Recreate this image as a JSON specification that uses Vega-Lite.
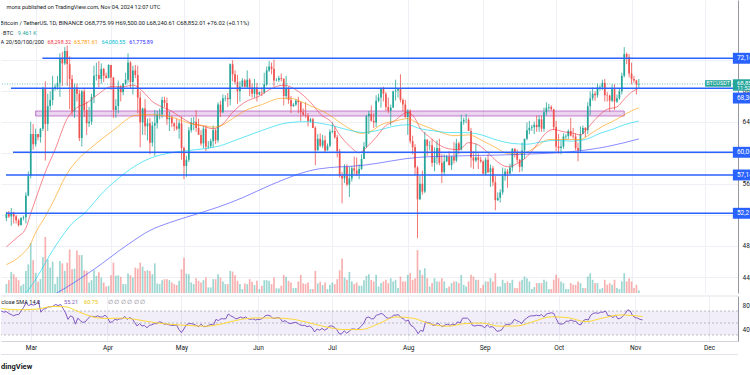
{
"$schema":"https://vega.github.io/schema/vega-lite/v6.json",
"padding":0,
"background":"#ffffff",
"spacing":2,
"config":{"view":{"stroke":null},"font":"Roboto","axis":{"labelFont":"Roboto","labelFontSize":6.5,"labelColor":"#131722","ticks":false,"gridColor":"#eef0f5","domainColor":"#9598a1"}},
"datasets":{
"ohlc":[
{"d":"2024-02-18","o":51.6,"h":52.4,"l":51.2,"c":52.1,"v":27,"r":70},
{"d":"2024-02-19","o":52.1,"h":52.5,"l":51.6,"c":51.8,"v":39,"r":68},
{"d":"2024-02-20","o":51.8,"h":52.9,"l":50.6,"c":52.3,"v":64,"r":69},
{"d":"2024-02-21","o":52.3,"h":52.4,"l":50.9,"c":51.8,"v":57,"r":66},
{"d":"2024-02-22","o":51.8,"h":52.0,"l":50.9,"c":51.3,"v":47,"r":64},
{"d":"2024-02-23","o":51.3,"h":51.5,"l":50.5,"c":50.7,"v":39,"r":62},
{"d":"2024-02-24","o":50.7,"h":51.7,"l":50.6,"c":51.6,"v":22,"r":64},
{"d":"2024-02-25","o":51.6,"h":51.9,"l":51.3,"c":51.7,"v":27,"r":64},
{"d":"2024-02-26","o":51.7,"h":54.9,"l":50.9,"c":54.5,"v":67,"r":70},
{"d":"2024-02-27","o":54.5,"h":57.6,"l":54.4,"c":57.0,"v":87,"r":76},
{"d":"2024-02-28","o":57.0,"h":64.0,"l":56.7,"c":62.4,"v":152,"r":84},
{"d":"2024-02-29","o":62.4,"h":63.7,"l":60.4,"c":61.1,"v":99,"r":79},
{"d":"2024-03-01","o":61.1,"h":63.1,"l":60.8,"c":62.4,"v":61,"r":81},
{"d":"2024-03-02","o":62.4,"h":62.4,"l":61.6,"c":62.0,"v":34,"r":80},
{"d":"2024-03-03","o":62.0,"h":63.2,"l":61.3,"c":63.1,"v":42,"r":81},
{"d":"2024-03-04","o":63.1,"h":68.5,"l":62.8,"c":68.2,"v":109,"r":87},
{"d":"2024-03-05","o":68.2,"h":69.2,"l":59.0,"c":63.7,"v":170,"r":68},
{"d":"2024-03-06","o":63.7,"h":67.6,"l":62.8,"c":66.0,"v":102,"r":73},
{"d":"2024-03-07","o":66.0,"h":67.9,"l":65.5,"c":66.8,"v":77,"r":74},
{"d":"2024-03-08","o":66.8,"h":69.9,"l":66.1,"c":68.3,"v":95,"r":77},
{"d":"2024-03-09","o":68.3,"h":68.8,"l":68.0,"c":68.5,"v":27,"r":77},
{"d":"2024-03-10","o":68.5,"h":69.9,"l":68.1,"c":69.0,"v":49,"r":78},
{"d":"2024-03-11","o":69.0,"h":72.8,"l":67.2,"c":72.1,"v":97,"r":81},
{"d":"2024-03-12","o":72.1,"h":73.0,"l":68.6,"c":71.5,"v":90,"r":79},
{"d":"2024-03-13","o":71.5,"h":73.6,"l":71.3,"c":73.1,"v":67,"r":81},
{"d":"2024-03-14","o":73.1,"h":73.8,"l":68.6,"c":71.4,"v":92,"r":74},
{"d":"2024-03-15","o":71.4,"h":72.4,"l":65.6,"c":69.5,"v":132,"r":67},
{"d":"2024-03-16","o":69.5,"h":70.0,"l":64.8,"c":65.3,"v":72,"r":56},
{"d":"2024-03-17","o":65.3,"h":68.9,"l":64.5,"c":68.4,"v":74,"r":62},
{"d":"2024-03-18","o":68.4,"h":68.9,"l":66.6,"c":67.6,"v":129,"r":60},
{"d":"2024-03-19","o":67.6,"h":68.1,"l":61.5,"c":61.9,"v":115,"r":48},
{"d":"2024-03-20","o":61.9,"h":68.1,"l":60.8,"c":67.9,"v":115,"r":58},
{"d":"2024-03-21","o":67.9,"h":68.2,"l":64.6,"c":65.5,"v":69,"r":54},
{"d":"2024-03-22","o":65.5,"h":66.6,"l":62.3,"c":63.8,"v":67,"r":51},
{"d":"2024-03-23","o":63.8,"h":65.9,"l":63.3,"c":64.0,"v":32,"r":52},
{"d":"2024-03-24","o":64.0,"h":67.6,"l":63.6,"c":67.2,"v":39,"r":57},
{"d":"2024-03-25","o":67.2,"h":71.2,"l":66.4,"c":69.9,"v":69,"r":61},
{"d":"2024-03-26","o":69.9,"h":71.6,"l":69.3,"c":70.0,"v":52,"r":61},
{"d":"2024-03-27","o":70.0,"h":71.8,"l":68.4,"c":69.5,"v":63,"r":60},
{"d":"2024-03-28","o":69.5,"h":71.5,"l":68.9,"c":70.8,"v":47,"r":62},
{"d":"2024-03-29","o":70.8,"h":70.9,"l":69.1,"c":69.9,"v":32,"r":60},
{"d":"2024-03-30","o":69.9,"h":70.3,"l":69.6,"c":69.6,"v":20,"r":60},
{"d":"2024-03-31","o":69.6,"h":71.4,"l":69.6,"c":71.3,"v":22,"r":63},
{"d":"2024-04-01","o":71.3,"h":71.3,"l":68.1,"c":69.7,"v":54,"r":59},
{"d":"2024-04-02","o":69.7,"h":69.7,"l":64.5,"c":65.5,"v":92,"r":51},
{"d":"2024-04-03","o":65.5,"h":66.9,"l":64.5,"c":66.0,"v":52,"r":52},
{"d":"2024-04-04","o":66.0,"h":69.3,"l":65.1,"c":68.5,"v":54,"r":56},
{"d":"2024-04-05","o":68.5,"h":68.7,"l":66.6,"c":67.8,"v":49,"r":55},
{"d":"2024-04-06","o":67.8,"h":69.0,"l":67.4,"c":68.9,"v":27,"r":57},
{"d":"2024-04-07","o":68.9,"h":70.3,"l":68.7,"c":69.4,"v":27,"r":57},
{"d":"2024-04-08","o":69.4,"h":72.8,"l":69.0,"c":71.6,"v":59,"r":61},
{"d":"2024-04-09","o":71.6,"h":71.8,"l":68.2,"c":69.1,"v":54,"r":56},
{"d":"2024-04-10","o":69.1,"h":71.2,"l":67.5,"c":70.6,"v":47,"r":59},
{"d":"2024-04-11","o":70.6,"h":71.3,"l":69.6,"c":70.0,"v":77,"r":57},
{"d":"2024-04-12","o":70.0,"h":71.2,"l":65.1,"c":67.1,"v":74,"r":51},
{"d":"2024-04-13","o":67.1,"h":67.9,"l":60.7,"c":63.9,"v":92,"r":45},
{"d":"2024-04-14","o":63.9,"h":65.8,"l":62.3,"c":65.7,"v":80,"r":49},
{"d":"2024-04-15","o":65.7,"h":66.9,"l":62.3,"c":63.4,"v":67,"r":45},
{"d":"2024-04-16","o":63.4,"h":64.4,"l":61.6,"c":63.8,"v":69,"r":46},
{"d":"2024-04-17","o":63.8,"h":64.5,"l":59.8,"c":61.3,"v":67,"r":42},
{"d":"2024-04-18","o":61.3,"h":64.0,"l":60.8,"c":63.5,"v":57,"r":46},
{"d":"2024-04-19","o":63.5,"h":65.5,"l":59.6,"c":63.8,"v":90,"r":47},
{"d":"2024-04-20","o":63.8,"h":65.4,"l":63.1,"c":64.9,"v":29,"r":49},
{"d":"2024-04-21","o":64.9,"h":65.7,"l":64.3,"c":64.95,"v":27,"r":49},
{"d":"2024-04-22","o":64.95,"h":67.2,"l":64.5,"c":66.8,"v":39,"r":52},
{"d":"2024-04-23","o":66.8,"h":67.2,"l":65.9,"c":66.4,"v":42,"r":51},
{"d":"2024-04-24","o":66.4,"h":67.1,"l":63.6,"c":64.3,"v":42,"r":48},
{"d":"2024-04-25","o":64.3,"h":65.3,"l":62.8,"c":64.5,"v":39,"r":48},
{"d":"2024-04-26","o":64.5,"h":64.8,"l":63.3,"c":63.8,"v":32,"r":47},
{"d":"2024-04-27","o":63.8,"h":63.9,"l":62.8,"c":63.4,"v":27,"r":46},
{"d":"2024-04-28","o":63.4,"h":64.4,"l":62.9,"c":63.1,"v":24,"r":46},
{"d":"2024-04-29","o":63.1,"h":64.2,"l":61.8,"c":63.8,"v":37,"r":47},
{"d":"2024-04-30","o":63.8,"h":64.7,"l":59.1,"c":60.6,"v":72,"r":39},
{"d":"2024-05-01","o":60.6,"h":60.8,"l":56.6,"c":58.3,"v":107,"r":34},
{"d":"2024-05-02","o":58.3,"h":59.6,"l":56.9,"c":59.1,"v":59,"r":40},
{"d":"2024-05-03","o":59.1,"h":63.3,"l":58.8,"c":62.9,"v":57,"r":47},
{"d":"2024-05-04","o":62.9,"h":64.5,"l":62.6,"c":63.9,"v":32,"r":49},
{"d":"2024-05-05","o":63.9,"h":64.6,"l":62.9,"c":64.0,"v":27,"r":49},
{"d":"2024-05-06","o":64.0,"h":65.5,"l":62.7,"c":63.2,"v":45,"r":48},
{"d":"2024-05-07","o":63.2,"h":64.4,"l":62.3,"c":62.3,"v":37,"r":46},
{"d":"2024-05-08","o":62.3,"h":62.9,"l":60.9,"c":61.2,"v":32,"r":44},
{"d":"2024-05-09","o":61.2,"h":63.4,"l":60.6,"c":63.1,"v":39,"r":48},
{"d":"2024-05-10","o":63.1,"h":63.5,"l":60.2,"c":60.8,"v":47,"r":44},
{"d":"2024-05-11","o":60.8,"h":61.5,"l":60.5,"c":60.85,"v":17,"r":44},
{"d":"2024-05-12","o":60.85,"h":61.8,"l":60.6,"c":61.5,"v":17,"r":46},
{"d":"2024-05-13","o":61.5,"h":63.5,"l":60.7,"c":62.9,"v":42,"r":48},
{"d":"2024-05-14","o":62.9,"h":63.1,"l":61.1,"c":61.6,"v":42,"r":46},
{"d":"2024-05-15","o":61.6,"h":66.5,"l":61.3,"c":66.2,"v":57,"r":56},
{"d":"2024-05-16","o":66.2,"h":66.7,"l":64.6,"c":65.2,"v":47,"r":54},
{"d":"2024-05-17","o":65.2,"h":67.5,"l":65.1,"c":67.0,"v":35,"r":57},
{"d":"2024-05-18","o":67.0,"h":67.4,"l":66.6,"c":67.05,"v":27,"r":57},
{"d":"2024-05-19","o":67.05,"h":67.7,"l":65.9,"c":66.9,"v":27,"r":57},
{"d":"2024-05-20","o":66.9,"h":71.5,"l":66.1,"c":71.4,"v":67,"r":65},
{"d":"2024-05-21","o":71.4,"h":71.9,"l":69.2,"c":70.1,"v":65,"r":62},
{"d":"2024-05-22","o":70.1,"h":70.6,"l":68.8,"c":69.1,"v":54,"r":60},
{"d":"2024-05-23","o":69.1,"h":70.0,"l":66.3,"c":67.9,"v":37,"r":57},
{"d":"2024-05-24","o":67.9,"h":69.2,"l":66.6,"c":68.5,"v":27,"r":58},
{"d":"2024-05-25","o":68.5,"h":69.6,"l":68.5,"c":69.3,"v":12,"r":60},
{"d":"2024-05-26","o":69.3,"h":69.5,"l":68.4,"c":68.5,"v":29,"r":58},
{"d":"2024-05-27","o":68.5,"h":70.6,"l":68.2,"c":69.4,"v":27,"r":60},
{"d":"2024-05-28","o":69.4,"h":69.6,"l":67.3,"c":68.4,"v":42,"r":57},
{"d":"2024-05-29","o":68.4,"h":68.9,"l":67.1,"c":67.6,"v":34,"r":56},
{"d":"2024-05-30","o":67.6,"h":69.5,"l":67.1,"c":68.4,"v":24,"r":57},
{"d":"2024-05-31","o":68.4,"h":69.0,"l":66.6,"c":67.5,"v":37,"r":55},
{"d":"2024-06-01","o":67.5,"h":67.9,"l":67.4,"c":67.8,"v":12,"r":56},
{"d":"2024-06-02","o":67.8,"h":68.4,"l":67.3,"c":67.75,"v":22,"r":56},
{"d":"2024-06-03","o":67.75,"h":70.3,"l":67.6,"c":68.8,"v":39,"r":58},
{"d":"2024-06-04","o":68.8,"h":71.1,"l":68.6,"c":70.6,"v":39,"r":62},
{"d":"2024-06-05","o":70.6,"h":71.8,"l":70.4,"c":71.1,"v":37,"r":63},
{"d":"2024-06-06","o":71.1,"h":71.6,"l":70.1,"c":70.8,"v":27,"r":62},
{"d":"2024-06-07","o":70.8,"h":72.0,"l":68.5,"c":69.3,"v":47,"r":58},
{"d":"2024-06-08","o":69.3,"h":69.6,"l":69.2,"c":69.35,"v":14,"r":58},
{"d":"2024-06-09","o":69.35,"h":69.9,"l":69.1,"c":69.6,"v":14,"r":59},
{"d":"2024-06-10","o":69.6,"h":70.2,"l":69.2,"c":69.5,"v":22,"r":58},
{"d":"2024-06-11","o":69.5,"h":69.6,"l":66.1,"c":67.3,"v":55,"r":52},
{"d":"2024-06-12","o":67.3,"h":69.9,"l":66.9,"c":68.2,"v":49,"r":54},
{"d":"2024-06-13","o":68.2,"h":68.5,"l":66.3,"c":66.8,"v":37,"r":51},
{"d":"2024-06-14","o":66.8,"h":67.3,"l":65.1,"c":66.0,"v":32,"r":49},
{"d":"2024-06-15","o":66.0,"h":66.4,"l":65.9,"c":66.2,"v":15,"r":50},
{"d":"2024-06-16","o":66.2,"h":66.9,"l":66.0,"c":66.7,"v":15,"r":51},
{"d":"2024-06-17","o":66.7,"h":67.2,"l":65.1,"c":66.5,"v":35,"r":50},
{"d":"2024-06-18","o":66.5,"h":66.6,"l":64.1,"c":65.2,"v":55,"r":47},
{"d":"2024-06-19","o":65.2,"h":65.7,"l":64.7,"c":64.9,"v":29,"r":46},
{"d":"2024-06-20","o":64.9,"h":66.5,"l":64.5,"c":64.8,"v":27,"r":46},
{"d":"2024-06-21","o":64.8,"h":65.1,"l":63.4,"c":64.1,"v":32,"r":44},
{"d":"2024-06-22","o":64.1,"h":64.5,"l":63.9,"c":64.3,"v":12,"r":45},
{"d":"2024-06-23","o":64.3,"h":64.5,"l":63.2,"c":63.2,"v":12,"r":42},
{"d":"2024-06-24","o":63.2,"h":63.4,"l":58.4,"c":60.3,"v":67,"r":35},
{"d":"2024-06-25","o":60.3,"h":62.4,"l":60.3,"c":61.8,"v":29,"r":40},
{"d":"2024-06-26","o":61.8,"h":62.5,"l":60.7,"c":60.9,"v":34,"r":38},
{"d":"2024-06-27","o":60.9,"h":62.3,"l":60.6,"c":61.6,"v":24,"r":41},
{"d":"2024-06-28","o":61.6,"h":62.2,"l":60.1,"c":60.3,"v":32,"r":38},
{"d":"2024-06-29","o":60.3,"h":61.2,"l":60.3,"c":60.9,"v":12,"r":40},
{"d":"2024-06-30","o":60.9,"h":63.0,"l":60.7,"c":62.7,"v":25,"r":45},
{"d":"2024-07-01","o":62.7,"h":63.9,"l":62.5,"c":62.8,"v":32,"r":45},
{"d":"2024-07-02","o":62.8,"h":63.3,"l":61.8,"c":62.0,"v":27,"r":43},
{"d":"2024-07-03","o":62.0,"h":62.3,"l":59.4,"c":60.2,"v":42,"r":39},
{"d":"2024-07-04","o":60.2,"h":60.5,"l":56.8,"c":57.0,"v":69,"r":32},
{"d":"2024-07-05","o":57.0,"h":57.5,"l":53.5,"c":56.7,"v":105,"r":32},
{"d":"2024-07-06","o":56.7,"h":58.5,"l":56.1,"c":58.2,"v":47,"r":37},
{"d":"2024-07-07","o":58.2,"h":58.5,"l":55.7,"c":55.9,"v":40,"r":33},
{"d":"2024-07-08","o":55.9,"h":58.2,"l":54.3,"c":56.7,"v":64,"r":36},
{"d":"2024-07-09","o":56.7,"h":58.3,"l":56.3,"c":58.0,"v":35,"r":40},
{"d":"2024-07-10","o":58.0,"h":59.5,"l":57.2,"c":57.7,"v":27,"r":40},
{"d":"2024-07-11","o":57.7,"h":59.4,"l":57.0,"c":57.3,"v":32,"r":39},
{"d":"2024-07-12","o":57.3,"h":58.5,"l":56.6,"c":57.9,"v":22,"r":41},
{"d":"2024-07-13","o":57.9,"h":59.8,"l":57.8,"c":59.2,"v":22,"r":45},
{"d":"2024-07-14","o":59.2,"h":61.4,"l":59.2,"c":60.8,"v":39,"r":50},
{"d":"2024-07-15","o":60.8,"h":64.9,"l":60.6,"c":64.7,"v":52,"r":59},
{"d":"2024-07-16","o":64.7,"h":65.4,"l":62.4,"c":65.0,"v":57,"r":60},
{"d":"2024-07-17","o":65.0,"h":66.1,"l":64.0,"c":64.1,"v":40,"r":57},
{"d":"2024-07-18","o":64.1,"h":65.1,"l":63.2,"c":63.9,"v":35,"r":57},
{"d":"2024-07-19","o":63.9,"h":67.4,"l":63.3,"c":66.7,"v":55,"r":63},
{"d":"2024-07-20","o":66.7,"h":67.6,"l":66.5,"c":67.1,"v":20,"r":64},
{"d":"2024-07-21","o":67.1,"h":68.4,"l":65.8,"c":68.2,"v":30,"r":66},
{"d":"2024-07-22","o":68.2,"h":68.5,"l":66.6,"c":67.6,"v":35,"r":64},
{"d":"2024-07-23","o":67.6,"h":67.8,"l":65.4,"c":65.9,"v":40,"r":59},
{"d":"2024-07-24","o":65.9,"h":67.1,"l":65.1,"c":65.4,"v":30,"r":58},
{"d":"2024-07-25","o":65.4,"h":66.2,"l":63.5,"c":65.8,"v":45,"r":59},
{"d":"2024-07-26","o":65.8,"h":68.0,"l":65.8,"c":67.9,"v":35,"r":63},
{"d":"2024-07-27","o":67.9,"h":69.4,"l":66.7,"c":68.0,"v":40,"r":63},
{"d":"2024-07-28","o":68.0,"h":68.3,"l":67.1,"c":68.3,"v":15,"r":64},
{"d":"2024-07-29","o":68.3,"h":70.1,"l":66.5,"c":66.8,"v":50,"r":59},
{"d":"2024-07-30","o":66.8,"h":67.0,"l":65.3,"c":66.2,"v":35,"r":57},
{"d":"2024-07-31","o":66.2,"h":66.8,"l":64.5,"c":64.6,"v":35,"r":53},
{"d":"2024-08-01","o":64.6,"h":65.6,"l":62.3,"c":65.4,"v":55,"r":55},
{"d":"2024-08-02","o":65.4,"h":65.6,"l":61.2,"c":61.5,"v":60,"r":46},
{"d":"2024-08-03","o":61.5,"h":62.2,"l":59.8,"c":60.7,"v":40,"r":44},
{"d":"2024-08-04","o":60.7,"h":61.1,"l":57.1,"c":58.1,"v":45,"r":39},
{"d":"2024-08-05","o":58.1,"h":58.3,"l":49.0,"c":54.0,"v":130,"r":32},
{"d":"2024-08-06","o":54.0,"h":57.0,"l":53.9,"c":56.0,"v":70,"r":38},
{"d":"2024-08-07","o":56.0,"h":57.7,"l":54.6,"c":55.0,"v":55,"r":36},
{"d":"2024-08-08","o":55.0,"h":62.7,"l":54.8,"c":61.7,"v":75,"r":52},
{"d":"2024-08-09","o":61.7,"h":61.7,"l":59.6,"c":60.9,"v":45,"r":50},
{"d":"2024-08-10","o":60.9,"h":61.5,"l":60.3,"c":60.95,"v":20,"r":50},
{"d":"2024-08-11","o":60.95,"h":61.8,"l":58.2,"c":58.7,"v":30,"r":46},
{"d":"2024-08-12","o":58.7,"h":60.7,"l":57.6,"c":59.4,"v":45,"r":47},
{"d":"2024-08-13","o":59.4,"h":61.6,"l":58.5,"c":60.6,"v":35,"r":50},
{"d":"2024-08-14","o":60.6,"h":61.8,"l":58.4,"c":58.7,"v":35,"r":46},
{"d":"2024-08-15","o":58.7,"h":59.8,"l":56.1,"c":57.5,"v":45,"r":44},
{"d":"2024-08-16","o":57.5,"h":59.8,"l":57.1,"c":58.9,"v":35,"r":47},
{"d":"2024-08-17","o":58.9,"h":59.7,"l":58.8,"c":59.5,"v":15,"r":48},
{"d":"2024-08-18","o":59.5,"h":60.2,"l":58.4,"c":58.4,"v":20,"r":46},
{"d":"2024-08-19","o":58.4,"h":59.6,"l":57.8,"c":59.5,"v":30,"r":48},
{"d":"2024-08-20","o":59.5,"h":61.4,"l":58.6,"c":59.0,"v":35,"r":47},
{"d":"2024-08-21","o":59.0,"h":61.8,"l":58.8,"c":61.2,"v":35,"r":52},
{"d":"2024-08-22","o":61.2,"h":61.4,"l":59.8,"c":60.4,"v":30,"r":50},
{"d":"2024-08-23","o":60.4,"h":64.9,"l":60.3,"c":64.0,"v":55,"r":58},
{"d":"2024-08-24","o":64.0,"h":64.5,"l":63.6,"c":64.2,"v":25,"r":58},
{"d":"2024-08-25","o":64.2,"h":65.0,"l":63.8,"c":64.25,"v":20,"r":58},
{"d":"2024-08-26","o":64.25,"h":64.5,"l":62.8,"c":62.8,"v":35,"r":54},
{"d":"2024-08-27","o":62.8,"h":63.2,"l":58.1,"c":59.4,"v":55,"r":46},
{"d":"2024-08-28","o":59.4,"h":60.2,"l":57.9,"c":59.0,"v":50,"r":45},
{"d":"2024-08-29","o":59.0,"h":61.2,"l":58.8,"c":59.4,"v":40,"r":46},
{"d":"2024-08-30","o":59.4,"h":59.9,"l":57.9,"c":59.1,"v":40,"r":46},
{"d":"2024-08-31","o":59.1,"h":59.5,"l":58.7,"c":58.9,"v":15,"r":45},
{"d":"2024-09-01","o":58.9,"h":59.0,"l":57.2,"c":57.3,"v":25,"r":42},
{"d":"2024-09-02","o":57.3,"h":59.4,"l":57.1,"c":59.1,"v":35,"r":47},
{"d":"2024-09-03","o":59.1,"h":59.8,"l":57.4,"c":57.5,"v":35,"r":43},
{"d":"2024-09-04","o":57.5,"h":58.5,"l":55.6,"c":58.0,"v":45,"r":44},
{"d":"2024-09-05","o":58.0,"h":58.3,"l":55.7,"c":56.2,"v":35,"r":41},
{"d":"2024-09-06","o":56.2,"h":57.0,"l":52.6,"c":53.9,"v":60,"r":36},
{"d":"2024-09-07","o":53.9,"h":54.9,"l":53.8,"c":54.2,"v":20,"r":37},
{"d":"2024-09-08","o":54.2,"h":55.3,"l":53.6,"c":54.9,"v":20,"r":39},
{"d":"2024-09-09","o":54.9,"h":58.1,"l":54.6,"c":57.0,"v":40,"r":46},
{"d":"2024-09-10","o":57.0,"h":58.0,"l":56.4,"c":57.6,"v":30,"r":48},
{"d":"2024-09-11","o":57.6,"h":57.9,"l":55.5,"c":57.3,"v":35,"r":47},
{"d":"2024-09-12","o":57.3,"h":58.6,"l":57.3,"c":58.1,"v":30,"r":50},
{"d":"2024-09-13","o":58.1,"h":60.6,"l":57.6,"c":60.5,"v":40,"r":56},
{"d":"2024-09-14","o":60.5,"h":60.6,"l":59.4,"c":60.0,"v":15,"r":54},
{"d":"2024-09-15","o":60.0,"h":60.4,"l":58.7,"c":59.1,"v":15,"r":52},
{"d":"2024-09-16","o":59.1,"h":59.2,"l":57.5,"c":58.2,"v":35,"r":49},
{"d":"2024-09-17","o":58.2,"h":61.3,"l":57.6,"c":60.3,"v":40,"r":55},
{"d":"2024-09-18","o":60.3,"h":61.8,"l":59.2,"c":61.8,"v":50,"r":58},
{"d":"2024-09-19","o":61.8,"h":63.9,"l":61.6,"c":62.9,"v":45,"r":61},
{"d":"2024-09-20","o":62.9,"h":64.1,"l":62.4,"c":63.2,"v":35,"r":62},
{"d":"2024-09-21","o":63.2,"h":63.6,"l":62.8,"c":63.3,"v":12,"r":62},
{"d":"2024-09-22","o":63.3,"h":64.0,"l":62.4,"c":63.6,"v":18,"r":63},
{"d":"2024-09-23","o":63.6,"h":64.8,"l":62.7,"c":63.3,"v":30,"r":62},
{"d":"2024-09-24","o":63.3,"h":64.8,"l":62.7,"c":64.3,"v":30,"r":64},
{"d":"2024-09-25","o":64.3,"h":64.8,"l":62.7,"c":63.1,"v":30,"r":60},
{"d":"2024-09-26","o":63.1,"h":65.8,"l":62.7,"c":65.2,"v":40,"r":65},
{"d":"2024-09-27","o":65.2,"h":66.5,"l":64.8,"c":65.8,"v":35,"r":66},
{"d":"2024-09-28","o":65.8,"h":66.3,"l":65.4,"c":65.9,"v":12,"r":67},
{"d":"2024-09-29","o":65.9,"h":66.1,"l":65.4,"c":65.6,"v":12,"r":66},
{"d":"2024-09-30","o":65.6,"h":65.6,"l":62.9,"c":63.3,"v":40,"r":57},
{"d":"2024-10-01","o":63.3,"h":64.1,"l":60.2,"c":60.8,"v":55,"r":49},
{"d":"2024-10-02","o":60.8,"h":62.4,"l":59.9,"c":60.6,"v":45,"r":48},
{"d":"2024-10-03","o":60.6,"h":61.5,"l":59.8,"c":60.8,"v":35,"r":49},
{"d":"2024-10-04","o":60.8,"h":62.5,"l":60.5,"c":62.1,"v":30,"r":53},
{"d":"2024-10-05","o":62.1,"h":62.4,"l":61.7,"c":62.15,"v":12,"r":53},
{"d":"2024-10-06","o":62.15,"h":63.0,"l":61.8,"c":62.8,"v":12,"r":55},
{"d":"2024-10-07","o":62.8,"h":64.5,"l":62.1,"c":62.2,"v":30,"r":53},
{"d":"2024-10-08","o":62.2,"h":63.2,"l":61.8,"c":62.1,"v":25,"r":53},
{"d":"2024-10-09","o":62.1,"h":62.5,"l":60.3,"c":60.6,"v":25,"r":48},
{"d":"2024-10-10","o":60.6,"h":61.3,"l":58.9,"c":60.3,"v":35,"r":47},
{"d":"2024-10-11","o":60.3,"h":63.4,"l":60.0,"c":62.4,"v":30,"r":54},
{"d":"2024-10-12","o":62.4,"h":63.5,"l":62.4,"c":63.2,"v":15,"r":56},
{"d":"2024-10-13","o":63.2,"h":63.3,"l":62.0,"c":62.9,"v":15,"r":55},
{"d":"2024-10-14","o":62.9,"h":66.5,"l":62.4,"c":66.0,"v":50,"r":63},
{"d":"2024-10-15","o":66.0,"h":67.9,"l":64.8,"c":67.0,"v":60,"r":66},
{"d":"2024-10-16","o":67.0,"h":68.4,"l":66.7,"c":67.6,"v":40,"r":67},
{"d":"2024-10-17","o":67.6,"h":67.9,"l":66.7,"c":67.4,"v":30,"r":66},
{"d":"2024-10-18","o":67.4,"h":68.9,"l":67.1,"c":68.4,"v":30,"r":68},
{"d":"2024-10-19","o":68.4,"h":68.7,"l":68.0,"c":68.45,"v":12,"r":68},
{"d":"2024-10-20","o":68.45,"h":69.4,"l":68.1,"c":69.0,"v":15,"r":70},
{"d":"2024-10-21","o":69.0,"h":69.5,"l":66.6,"c":67.4,"v":40,"r":62},
{"d":"2024-10-22","o":67.4,"h":67.8,"l":66.6,"c":67.35,"v":25,"r":62},
{"d":"2024-10-23","o":67.35,"h":67.5,"l":65.3,"c":66.7,"v":30,"r":59},
{"d":"2024-10-24","o":66.7,"h":68.8,"l":66.5,"c":68.2,"v":25,"r":63},
{"d":"2024-10-25","o":68.2,"h":68.8,"l":65.5,"c":66.6,"v":40,"r":57},
{"d":"2024-10-26","o":66.6,"h":67.5,"l":66.4,"c":67.0,"v":15,"r":58},
{"d":"2024-10-27","o":67.0,"h":68.3,"l":66.8,"c":67.9,"v":12,"r":61},
{"d":"2024-10-28","o":67.9,"h":70.3,"l":67.5,"c":69.9,"v":35,"r":66},
{"d":"2024-10-29","o":69.9,"h":73.6,"l":69.7,"c":72.7,"v":60,"r":72},
{"d":"2024-10-30","o":72.7,"h":72.9,"l":71.4,"c":72.3,"v":35,"r":70},
{"d":"2024-10-31","o":72.3,"h":72.7,"l":69.7,"c":70.2,"v":45,"r":62},
{"d":"2024-11-01","o":70.2,"h":71.6,"l":68.8,"c":69.5,"v":35,"r":59},
{"d":"2024-11-02","o":69.5,"h":69.9,"l":69.0,"c":69.3,"v":15,"r":58},
{"d":"2024-11-03","o":69.3,"h":69.4,"l":67.5,"c":68.8,"v":25,"r":56},
{"d":"2024-11-04","o":68.78,"h":69.5,"l":68.24,"c":68.85,"v":8,"r":55.21}
],
"ema":[
{"d":"2024-02-18","k":"EMA20","e":47.9},{"d":"2024-02-22","k":"EMA20","e":49.0},{"d":"2024-02-26","k":"EMA20","e":50.3},{"d":"2024-02-28","k":"EMA20","e":52.2},{"d":"2024-03-01","k":"EMA20","e":54.0},{"d":"2024-03-05","k":"EMA20","e":57.5},{"d":"2024-03-09","k":"EMA20","e":60.4},{"d":"2024-03-14","k":"EMA20","e":64.4},{"d":"2024-03-18","k":"EMA20","e":65.8},{"d":"2024-03-22","k":"EMA20","e":66.4},{"d":"2024-03-27","k":"EMA20","e":67.6},{"d":"2024-04-01","k":"EMA20","e":68.5},{"d":"2024-04-06","k":"EMA20","e":68.5},{"d":"2024-04-10","k":"EMA20","e":68.7},{"d":"2024-04-14","k":"EMA20","e":67.9},{"d":"2024-04-18","k":"EMA20","e":66.6},{"d":"2024-04-22","k":"EMA20","e":65.9},{"d":"2024-04-25","k":"EMA20","e":65.5},{"d":"2024-04-30","k":"EMA20","e":64.5},{"d":"2024-05-04","k":"EMA20","e":63.8},{"d":"2024-05-08","k":"EMA20","e":63.5},{"d":"2024-05-13","k":"EMA20","e":63.1},{"d":"2024-05-17","k":"EMA20","e":63.7},{"d":"2024-05-21","k":"EMA20","e":65.2},{"d":"2024-05-26","k":"EMA20","e":66.5},{"d":"2024-06-01","k":"EMA20","e":67.3},{"d":"2024-06-05","k":"EMA20","e":68.1},{"d":"2024-06-11","k":"EMA20","e":68.7},{"d":"2024-06-16","k":"EMA20","e":68.1},{"d":"2024-06-22","k":"EMA20","e":66.5},{"d":"2024-06-26","k":"EMA20","e":65.0},{"d":"2024-07-01","k":"EMA20","e":63.8},{"d":"2024-07-04","k":"EMA20","e":62.3},{"d":"2024-07-08","k":"EMA20","e":60.9},{"d":"2024-07-12","k":"EMA20","e":60.0},{"d":"2024-07-16","k":"EMA20","e":61.0},{"d":"2024-07-19","k":"EMA20","e":62.0},{"d":"2024-07-23","k":"EMA20","e":63.5},{"d":"2024-07-26","k":"EMA20","e":64.0},{"d":"2024-08-01","k":"EMA20","e":65.2},{"d":"2024-08-04","k":"EMA20","e":64.4},{"d":"2024-08-06","k":"EMA20","e":63.2},{"d":"2024-08-10","k":"EMA20","e":62.0},{"d":"2024-08-14","k":"EMA20","e":61.0},{"d":"2024-08-18","k":"EMA20","e":60.5},{"d":"2024-08-22","k":"EMA20","e":60.4},{"d":"2024-08-26","k":"EMA20","e":61.3},{"d":"2024-08-30","k":"EMA20","e":61.0},{"d":"2024-09-03","k":"EMA20","e":60.0},{"d":"2024-09-07","k":"EMA20","e":58.8},{"d":"2024-09-11","k":"EMA20","e":58.2},{"d":"2024-09-15","k":"EMA20","e":58.6},{"d":"2024-09-19","k":"EMA20","e":59.5},{"d":"2024-09-23","k":"EMA20","e":61.0},{"d":"2024-09-27","k":"EMA20","e":62.6},{"d":"2024-09-30","k":"EMA20","e":63.0},{"d":"2024-10-04","k":"EMA20","e":62.7},{"d":"2024-10-08","k":"EMA20","e":62.5},{"d":"2024-10-11","k":"EMA20","e":62.3},{"d":"2024-10-14","k":"EMA20","e":63.2},{"d":"2024-10-18","k":"EMA20","e":64.6},{"d":"2024-10-22","k":"EMA20","e":65.6},{"d":"2024-10-26","k":"EMA20","e":65.9},{"d":"2024-10-29","k":"EMA20","e":66.9},{"d":"2024-11-01","k":"EMA20","e":67.8},{"d":"2024-11-04","k":"EMA20","e":68.3},
{"d":"2024-02-18","k":"EMA50","e":45.6},{"d":"2024-02-24","k":"EMA50","e":46.8},{"d":"2024-02-28","k":"EMA50","e":48.3},{"d":"2024-03-01","k":"EMA50","e":49.7},{"d":"2024-03-05","k":"EMA50","e":51.8},{"d":"2024-03-09","k":"EMA50","e":54.2},{"d":"2024-03-13","k":"EMA50","e":56.8},{"d":"2024-03-18","k":"EMA50","e":59.0},{"d":"2024-03-24","k":"EMA50","e":60.7},{"d":"2024-04-02","k":"EMA50","e":62.9},{"d":"2024-04-11","k":"EMA50","e":64.8},{"d":"2024-04-17","k":"EMA50","e":64.9},{"d":"2024-04-22","k":"EMA50","e":64.8},{"d":"2024-04-28","k":"EMA50","e":64.4},{"d":"2024-05-03","k":"EMA50","e":63.8},{"d":"2024-05-09","k":"EMA50","e":63.5},{"d":"2024-05-13","k":"EMA50","e":63.3},{"d":"2024-05-17","k":"EMA50","e":63.6},{"d":"2024-05-21","k":"EMA50","e":64.4},{"d":"2024-05-26","k":"EMA50","e":65.4},{"d":"2024-06-02","k":"EMA50","e":66.2},{"d":"2024-06-10","k":"EMA50","e":67.0},{"d":"2024-06-14","k":"EMA50","e":67.0},{"d":"2024-06-18","k":"EMA50","e":66.6},{"d":"2024-06-23","k":"EMA50","e":65.9},{"d":"2024-06-28","k":"EMA50","e":65.2},{"d":"2024-07-01","k":"EMA50","e":64.6},{"d":"2024-07-06","k":"EMA50","e":63.5},{"d":"2024-07-13","k":"EMA50","e":62.5},{"d":"2024-07-17","k":"EMA50","e":62.8},{"d":"2024-07-21","k":"EMA50","e":63.6},{"d":"2024-07-27","k":"EMA50","e":64.1},{"d":"2024-08-01","k":"EMA50","e":64.4},{"d":"2024-08-05","k":"EMA50","e":63.8},{"d":"2024-08-10","k":"EMA50","e":63.2},{"d":"2024-08-14","k":"EMA50","e":62.7},{"d":"2024-08-20","k":"EMA50","e":62.2},{"d":"2024-08-26","k":"EMA50","e":62.3},{"d":"2024-09-01","k":"EMA50","e":61.5},{"d":"2024-09-06","k":"EMA50","e":60.7},{"d":"2024-09-11","k":"EMA50","e":59.9},{"d":"2024-09-15","k":"EMA50","e":59.8},{"d":"2024-09-19","k":"EMA50","e":60.1},{"d":"2024-09-23","k":"EMA50","e":60.8},{"d":"2024-09-28","k":"EMA50","e":61.7},{"d":"2024-10-02","k":"EMA50","e":61.7},{"d":"2024-10-07","k":"EMA50","e":61.7},{"d":"2024-10-11","k":"EMA50","e":61.7},{"d":"2024-10-15","k":"EMA50","e":62.4},{"d":"2024-10-20","k":"EMA50","e":63.4},{"d":"2024-10-24","k":"EMA50","e":64.0},{"d":"2024-10-28","k":"EMA50","e":64.7},{"d":"2024-11-01","k":"EMA50","e":65.4},{"d":"2024-11-04","k":"EMA50","e":65.78},
{"d":"2024-02-18","k":"EMA100","e":40.8},{"d":"2024-02-26","k":"EMA100","e":42.0},{"d":"2024-03-02","k":"EMA100","e":44.2},{"d":"2024-03-07","k":"EMA100","e":46.9},{"d":"2024-03-12","k":"EMA100","e":49.3},{"d":"2024-03-16","k":"EMA100","e":50.9},{"d":"2024-03-21","k":"EMA100","e":52.2},{"d":"2024-03-29","k":"EMA100","e":55.0},{"d":"2024-04-06","k":"EMA100","e":57.2},{"d":"2024-04-12","k":"EMA100","e":58.5},{"d":"2024-04-18","k":"EMA100","e":59.4},{"d":"2024-04-24","k":"EMA100","e":59.9},{"d":"2024-04-30","k":"EMA100","e":60.2},{"d":"2024-05-06","k":"EMA100","e":60.4},{"d":"2024-05-11","k":"EMA100","e":60.6},{"d":"2024-05-16","k":"EMA100","e":60.9},{"d":"2024-05-22","k":"EMA100","e":61.6},{"d":"2024-05-29","k":"EMA100","e":62.4},{"d":"2024-06-05","k":"EMA100","e":63.2},{"d":"2024-06-10","k":"EMA100","e":63.7},{"d":"2024-06-14","k":"EMA100","e":63.9},{"d":"2024-06-20","k":"EMA100","e":64.0},{"d":"2024-06-26","k":"EMA100","e":63.8},{"d":"2024-07-02","k":"EMA100","e":63.4},{"d":"2024-07-08","k":"EMA100","e":62.9},{"d":"2024-07-14","k":"EMA100","e":62.6},{"d":"2024-07-20","k":"EMA100","e":62.9},{"d":"2024-07-26","k":"EMA100","e":63.4},{"d":"2024-08-01","k":"EMA100","e":63.6},{"d":"2024-08-06","k":"EMA100","e":63.1},{"d":"2024-08-12","k":"EMA100","e":62.8},{"d":"2024-08-18","k":"EMA100","e":62.6},{"d":"2024-08-24","k":"EMA100","e":62.6},{"d":"2024-08-30","k":"EMA100","e":62.4},{"d":"2024-09-07","k":"EMA100","e":61.6},{"d":"2024-09-13","k":"EMA100","e":61.2},{"d":"2024-09-19","k":"EMA100","e":61.1},{"d":"2024-09-25","k":"EMA100","e":61.4},{"d":"2024-10-01","k":"EMA100","e":61.6},{"d":"2024-10-07","k":"EMA100","e":61.5},{"d":"2024-10-13","k":"EMA100","e":61.7},{"d":"2024-10-19","k":"EMA100","e":62.5},{"d":"2024-10-24","k":"EMA100","e":63.0},{"d":"2024-10-29","k":"EMA100","e":63.6},{"d":"2024-11-04","k":"EMA100","e":64.08},
{"d":"2024-02-18","k":"EMA200","e":39.0},{"d":"2024-03-10","k":"EMA200","e":42.0},{"d":"2024-03-25","k":"EMA200","e":45.0},{"d":"2024-04-08","k":"EMA200","e":48.2},{"d":"2024-04-17","k":"EMA200","e":50.0},{"d":"2024-04-25","k":"EMA200","e":51.0},{"d":"2024-05-05","k":"EMA200","e":52.0},{"d":"2024-05-15","k":"EMA200","e":53.0},{"d":"2024-05-25","k":"EMA200","e":54.2},{"d":"2024-06-06","k":"EMA200","e":55.9},{"d":"2024-06-25","k":"EMA200","e":57.9},{"d":"2024-07-14","k":"EMA200","e":58.4},{"d":"2024-08-05","k":"EMA200","e":59.4},{"d":"2024-08-22","k":"EMA200","e":59.6},{"d":"2024-09-07","k":"EMA200","e":59.7},{"d":"2024-09-25","k":"EMA200","e":59.9},{"d":"2024-10-06","k":"EMA200","e":60.1},{"d":"2024-10-22","k":"EMA200","e":60.8},{"d":"2024-11-04","k":"EMA200","e":61.78}
],
"rsima":[
{"d":"2024-02-18","m":74},{"d":"2024-02-25","m":72},{"d":"2024-03-03","m":73},{"d":"2024-03-10","m":77.5},{"d":"2024-03-15","m":77},{"d":"2024-03-20","m":69.4},{"d":"2024-03-25","m":61.4},{"d":"2024-03-31","m":57.6},{"d":"2024-04-07","m":58.1},{"d":"2024-04-13","m":55.6},{"d":"2024-04-20","m":50.7},{"d":"2024-04-27","m":47.6},{"d":"2024-05-04","m":45.9},{"d":"2024-05-11","m":44.6},{"d":"2024-05-18","m":49.1},{"d":"2024-05-25","m":55.9},{"d":"2024-06-01","m":58.4},{"d":"2024-06-08","m":58.3},{"d":"2024-06-15","m":56.4},{"d":"2024-06-22","m":50.1},{"d":"2024-06-29","m":43.1},{"d":"2024-07-06","m":39.1},{"d":"2024-07-13","m":39.1},{"d":"2024-07-20","m":48.9},{"d":"2024-07-27","m":60.1},{"d":"2024-08-03","m":57.9},{"d":"2024-08-10","m":48.2},{"d":"2024-08-17","m":44.6},{"d":"2024-08-24","m":49.1},{"d":"2024-08-31","m":49.9},{"d":"2024-09-07","m":44.7},{"d":"2024-09-14","m":45.0},{"d":"2024-09-21","m":52.8},{"d":"2024-09-28","m":60.4},{"d":"2024-10-05","m":58.7},{"d":"2024-10-12","m":52.2},{"d":"2024-10-19","m":58.5},{"d":"2024-10-26","m":63.4},{"d":"2024-11-04","m":60.75}
],
"levels":[
{"lvl":72.16,"from":"2024-03-03T19:00:00Z","lab":"72,160.00"},
{"lvl":68.30,"from":"2024-02-19T21:00:00Z","lab":"68,300.00"},
{"lvl":60.06,"from":"2024-02-20T17:00:00Z","lab":"60,060.00"},
{"lvl":57.14,"from":"2024-02-17T20:00:00Z","lab":"57,140.00"},
{"lvl":52.21,"from":"2024-02-17T20:00:00Z","lab":"52,210.00"}
]
},
"vconcat":[
{
"width":737,"height":293,
"resolve":{"scale":{"y":"independent"}},
"layer":[
{"data":{"name":"ohlc"},
 "mark":{"type":"bar","width":1.7,"opacity":0.45,"clip":true},
 "encoding":{
  "x":{"field":"d","type":"temporal","title":null,"scale":{"type":"utc","domain":[{"year":2024,"month":2,"date":17,"hours":20,"utc":true},{"year":2024,"month":12,"date":12,"hours":17,"utc":true}]}},
  "y":{"field":"v","type":"quantitative","scale":{"domain":[0,889],"nice":false,"zero":true},"axis":null},
  "color":{"condition":{"test":"datum.c >= datum.o","value":"#26a69a"},"value":"#ef5350"}}},
{"layer":[
 {"data":{"values":[{"a":"2024-03-01","b":"2024-10-29","lo":64.73,"hi":65.37}]},
  "mark":{"type":"rect","fill":"#9c27b0","fillOpacity":0.2,"stroke":"#9c27b0","strokeOpacity":0.55,"strokeWidth":1,"clip":true},
  "encoding":{
   "x":{"field":"a","type":"temporal","title":null,"scale":{"type":"utc","domain":[{"year":2024,"month":2,"date":17,"hours":20,"utc":true},{"year":2024,"month":12,"date":12,"hours":17,"utc":true}]}},
   "x2":{"field":"b"},
   "y":{"field":"hi","type":"quantitative","title":null,"scale":{"domain":[41.95,79.66],"nice":false,"zero":false}},
   "y2":{"field":"lo"}}},
 {"data":{"name":"ohlc"},
  "mark":{"type":"rule","strokeWidth":1,"opacity":0.8,"clip":true},
  "encoding":{
   "x":{"field":"d","type":"temporal","title":null,"scale":{"type":"utc","domain":[{"year":2024,"month":2,"date":17,"hours":20,"utc":true},{"year":2024,"month":12,"date":12,"hours":17,"utc":true}]},
        "axis":{"labels":false,"ticks":false,"domain":false,"grid":true,"gridColor":"#eef0f5","title":null,
        "values":[{"year":2024,"month":3,"date":1,"utc":true},{"year":2024,"month":4,"date":1,"utc":true},{"year":2024,"month":5,"date":1,"utc":true},{"year":2024,"month":6,"date":1,"utc":true},{"year":2024,"month":7,"date":1,"utc":true},{"year":2024,"month":8,"date":1,"utc":true},{"year":2024,"month":9,"date":1,"utc":true},{"year":2024,"month":10,"date":1,"utc":true},{"year":2024,"month":11,"date":1,"utc":true},{"year":2024,"month":12,"date":1,"utc":true}]}},
   "y":{"field":"l","type":"quantitative","scale":{"domain":[41.95,79.66],"nice":false,"zero":false},
        "axis":{"orient":"right","title":null,"values":[44,46,48,50,52,54,56,58,60,62,64,66,68,70,72,74],"labelExpr":"format(datum.value*1000, ',.2f')","grid":true,"gridColor":"#eef0f5","ticks":false,"domain":true,"domainColor":"#9598a1","labelPadding":4}},
   "y2":{"field":"h"},
   "color":{"condition":{"test":"datum.c >= datum.o","value":"#26a69a"},"value":"#ef5350"}}},
 {"data":{"name":"ohlc"},
  "mark":{"type":"bar","width":1.7,"clip":true},
  "encoding":{
   "x":{"field":"d","type":"temporal","title":null,"scale":{"type":"utc","domain":[{"year":2024,"month":2,"date":17,"hours":20,"utc":true},{"year":2024,"month":12,"date":12,"hours":17,"utc":true}]}},
   "y":{"field":"o","type":"quantitative","title":null,"scale":{"domain":[41.95,79.66],"nice":false,"zero":false}},
   "y2":{"field":"c"},
   "color":{"condition":{"test":"datum.c >= datum.o","value":"#26a69a"},"value":"#ef5350"}}},
 {"data":{"name":"ema"},
  "mark":{"type":"line","strokeWidth":1,"opacity":0.6,"clip":true,"interpolate":"monotone"},
  "encoding":{
   "x":{"field":"d","type":"temporal","title":null,"scale":{"type":"utc","domain":[{"year":2024,"month":2,"date":17,"hours":20,"utc":true},{"year":2024,"month":12,"date":12,"hours":17,"utc":true}]}},
   "y":{"field":"e","type":"quantitative","title":null,"scale":{"domain":[41.95,79.66],"nice":false,"zero":false}},
   "color":{"field":"k","type":"nominal","scale":{"domain":["EMA20","EMA50","EMA100","EMA200"],"range":["#f23645","#ff9800","#00d4ee","#3d3dff"]},"legend":null}}},
 {"data":{"name":"levels"},
  "mark":{"type":"rule","color":"#2962ff","strokeWidth":1.5,"clip":true},
  "encoding":{
   "x":{"field":"from","type":"temporal","title":null,"scale":{"type":"utc","domain":[{"year":2024,"month":2,"date":17,"hours":20,"utc":true},{"year":2024,"month":12,"date":12,"hours":17,"utc":true}]}},
   "x2":{"datum":{"year":2024,"month":12,"date":12,"hours":17,"utc":true}},
   "y":{"field":"lvl","type":"quantitative","title":null,"scale":{"domain":[41.95,79.66],"nice":false,"zero":false}}}},
 {"data":{"values":[{}]},
  "mark":{"type":"rule","color":"#26a69a","strokeWidth":0.8,"strokeDash":[1,1.5],"opacity":0.8},
  "encoding":{"y":{"datum":68.852,"type":"quantitative","title":null,"scale":{"domain":[41.95,79.66],"nice":false,"zero":false}}}},
 {"data":{"values":[{}]},
  "mark":{"type":"point","shape":"M-1,-0.25L1,-0.25L1,0.25L-1,0.25Z","size":676,"filled":true,"color":"#26a69a","opacity":1},
  "encoding":{"x":{"datum":{"year":2024,"month":12,"date":6,"hours":14,"utc":true},"type":"temporal","title":null},"y":{"datum":68.92,"type":"quantitative","title":null}}},
 {"data":{"values":[{}]},
  "mark":{"type":"text","text":"BTCUSDT","color":"#ffffff","fontSize":5.5,"align":"center","baseline":"middle"},
  "encoding":{"x":{"datum":{"year":2024,"month":12,"date":6,"hours":14,"utc":true},"type":"temporal","title":null},"y":{"datum":68.92,"type":"quantitative","title":null}}},
 {"data":{"name":"levels"},
  "transform":[{"filter":"datum.lvl != 68.3"}],
  "mark":{"type":"point","shape":"M-1,-0.42L1,-0.42L1,0.42L-1,0.42Z","size":676,"filled":true,"color":"#2962ff","opacity":1},
  "encoding":{"x":{"datum":{"year":2024,"month":12,"date":18,"utc":true},"type":"temporal","title":null},"y":{"field":"lvl","type":"quantitative","title":null}}},
 {"data":{"name":"levels"},
  "transform":[{"filter":"datum.lvl != 68.3"}],
  "mark":{"type":"text","color":"#ffffff","fontSize":6.5,"align":"left","baseline":"middle"},
  "encoding":{"x":{"datum":{"year":2024,"month":12,"date":14,"hours":8,"utc":true},"type":"temporal","title":null},"y":{"field":"lvl","type":"quantitative","title":null},"text":{"field":"lab"}}},
 {"data":{"values":[{}]},
  "mark":{"type":"point","shape":"M-1,-0.42L1,-0.42L1,0.42L-1,0.42Z","size":676,"filled":true,"color":"#2962ff","opacity":1},
  "encoding":{"x":{"datum":{"year":2024,"month":12,"date":18,"utc":true},"type":"temporal","title":null},"y":{"datum":67.04,"type":"quantitative","title":null}}},
 {"data":{"values":[{}]},
  "mark":{"type":"text","text":"68,300.00","color":"#ffffff","fontSize":6.5,"align":"left","baseline":"middle"},
  "encoding":{"x":{"datum":{"year":2024,"month":12,"date":14,"hours":8,"utc":true},"type":"temporal","title":null},"y":{"datum":67.04,"type":"quantitative","title":null}}},
 {"data":{"values":[{}]},
  "mark":{"type":"point","shape":"M-1,-0.44L1,-0.44L1,0.44L-1,0.44Z","size":676,"filled":true,"color":"#26a69a","opacity":1},
  "encoding":{"x":{"datum":{"year":2024,"month":12,"date":18,"utc":true},"type":"temporal","title":null},"y":{"datum":68.72,"type":"quantitative","title":null}}},
 {"data":{"values":[{}]},
  "mark":{"type":"text","text":"68,852.01","color":"#ffffff","fontSize":6,"align":"left","baseline":"middle"},
  "encoding":{"x":{"datum":{"year":2024,"month":12,"date":14,"hours":8,"utc":true},"type":"temporal","title":null},"y":{"datum":69.02,"type":"quantitative","title":null}}},
 {"data":{"values":[{}]},
  "mark":{"type":"text","text":"11:52:43","color":"#ffffff","fontSize":5.5,"align":"left","baseline":"middle"},
  "encoding":{"x":{"datum":{"year":2024,"month":12,"date":14,"hours":8,"utc":true},"type":"temporal","title":null},"y":{"datum":68.38,"type":"quantitative","title":null}}},
 {"data":{"values":[{}]},
  "mark":{"type":"text","text":"mons published on TradingView.com, Nov 04, 2024 12:07 UTC","color":"#131722","fontSize":5.6,"align":"left","baseline":"middle","clip":true},
  "encoding":{"x":{"datum":{"year":2024,"month":2,"date":18,"hours":1,"utc":true},"type":"temporal","title":null},"y":{"datum":78.76,"type":"quantitative","title":null}}},
 {"data":{"values":[{}]},
  "mark":{"type":"text","text":"Bitcoin / TetherUS, 1D, BINANCE   O68,775.99  H69,500.00  L68,240.61  C68,852.01  +76.02 (+0.11%)","color":"#131722","fontSize":5.8,"align":"left","baseline":"middle","clip":true},
  "encoding":{"x":{"datum":{"year":2024,"month":2,"date":15,"hours":10,"utc":true},"type":"temporal","title":null},"y":{"datum":76.70,"type":"quantitative","title":null}}},
 {"data":{"values":[{}]},
  "mark":{"type":"text","text":"Vol · BTC","color":"#131722","fontSize":5.6,"align":"right","baseline":"middle","clip":true},
  "encoding":{"x":{"datum":{"year":2024,"month":2,"date":20,"hours":21,"utc":true},"type":"temporal","title":null},"y":{"datum":75.41,"type":"quantitative","title":null}}},
 {"data":{"values":[{}]},
  "mark":{"type":"text","text":"9.461 K","color":"#26a69a","fontSize":5.6,"align":"left","baseline":"middle","clip":true},
  "encoding":{"x":{"datum":{"year":2024,"month":2,"date":22,"hours":17,"utc":true},"type":"temporal","title":null},"y":{"datum":75.41,"type":"quantitative","title":null}}},
 {"data":{"values":[{}]},
  "mark":{"type":"text","text":"EMA 20/50/100/200","color":"#131722","fontSize":5.6,"align":"right","baseline":"middle","clip":true},
  "encoding":{"x":{"datum":{"year":2024,"month":3,"date":4,"hours":11,"utc":true},"type":"temporal","title":null},"y":{"datum":74.25,"type":"quantitative","title":null}}},
 {"data":{"values":[{}]},
  "mark":{"type":"text","text":"68,298.32","color":"#f23645","fontSize":5.4,"align":"left","baseline":"middle","clip":true},
  "encoding":{"x":{"datum":{"year":2024,"month":3,"date":5,"hours":21,"utc":true},"type":"temporal","title":null},"y":{"datum":74.25,"type":"quantitative","title":null}}},
 {"data":{"values":[{}]},
  "mark":{"type":"text","text":"65,781.61","color":"#ff9800","fontSize":5.4,"align":"left","baseline":"middle","clip":true},
  "encoding":{"x":{"datum":{"year":2024,"month":3,"date":16,"hours":20,"utc":true},"type":"temporal","title":null},"y":{"datum":74.25,"type":"quantitative","title":null}}},
 {"data":{"values":[{}]},
  "mark":{"type":"text","text":"64,080.55","color":"#00bcd4","fontSize":5.4,"align":"left","baseline":"middle","clip":true},
  "encoding":{"x":{"datum":{"year":2024,"month":3,"date":28,"hours":4,"utc":true},"type":"temporal","title":null},"y":{"datum":74.25,"type":"quantitative","title":null}}},
 {"data":{"values":[{}]},
  "mark":{"type":"text","text":"61,775.89","color":"#2929ff","fontSize":5.4,"align":"left","baseline":"middle","clip":true},
  "encoding":{"x":{"datum":{"year":2024,"month":4,"date":8,"hours":12,"utc":true},"type":"temporal","title":null},"y":{"datum":74.25,"type":"quantitative","title":null}}}
]}
]
},
{
"width":737,"height":45,
"layer":[
 {"data":{"values":[{}]},
  "mark":{"type":"rect","color":"#7e57c2","opacity":0.1},
  "encoding":{
   "x":{"datum":{"year":2024,"month":2,"date":17,"hours":20,"utc":true},"type":"temporal","title":null,"scale":{"type":"utc","domain":[{"year":2024,"month":2,"date":17,"hours":20,"utc":true},{"year":2024,"month":12,"date":12,"hours":17,"utc":true}]}},
   "x2":{"datum":{"year":2024,"month":12,"date":12,"hours":17,"utc":true}},
   "y":{"datum":70,"type":"quantitative","scale":{"domain":[20,95],"nice":false,"zero":false},
        "axis":{"orient":"right","title":null,"values":[40,80],"format":".2f","grid":false,"ticks":false,"domain":true,"domainColor":"#9598a1","labelPadding":4}},
   "y2":{"datum":30}}},
 {"data":{"values":[{"lv":70},{"lv":50},{"lv":30}]},
  "mark":{"type":"rule","color":"#787b86","strokeDash":[2,2],"strokeWidth":0.8,"opacity":0.6},
  "encoding":{"y":{"field":"lv","type":"quantitative","title":null,"scale":{"domain":[20,95],"nice":false,"zero":false}}}},
 {"data":{"values":[{}]},
  "mark":{"type":"rule","color":"#e0e3eb","strokeWidth":1},
  "encoding":{"y":{"datum":95,"type":"quantitative","title":null}}},
 {"data":{"name":"ohlc"},
  "mark":{"type":"line","color":"#7e57c2","strokeWidth":1,"clip":true},
  "encoding":{
   "x":{"field":"d","type":"temporal","scale":{"type":"utc","domain":[{"year":2024,"month":2,"date":17,"hours":20,"utc":true},{"year":2024,"month":12,"date":12,"hours":17,"utc":true}]},
        "axis":{"title":null,"format":"%b","labels":true,"ticks":false,"domain":true,"domainColor":"#d1d4dc","grid":true,"gridColor":"#eef0f5","labelPadding":3,"labelFlush":false,
        "values":[{"year":2024,"month":3,"date":1,"utc":true},{"year":2024,"month":4,"date":1,"utc":true},{"year":2024,"month":5,"date":1,"utc":true},{"year":2024,"month":6,"date":1,"utc":true},{"year":2024,"month":7,"date":1,"utc":true},{"year":2024,"month":8,"date":1,"utc":true},{"year":2024,"month":9,"date":1,"utc":true},{"year":2024,"month":10,"date":1,"utc":true},{"year":2024,"month":11,"date":1,"utc":true},{"year":2024,"month":12,"date":1,"utc":true}]}},
   "y":{"field":"r","type":"quantitative","title":null}}},
 {"data":{"name":"rsima"},
  "mark":{"type":"line","color":"#fdd835","strokeWidth":1,"interpolate":"monotone","clip":true},
  "encoding":{
   "x":{"field":"d","type":"temporal","title":null},
   "y":{"field":"m","type":"quantitative","title":null}}},
 {"data":{"values":[{}]},
  "mark":{"type":"text","text":"RSI 14 close SMA 14 2","color":"#131722","fontSize":5.6,"align":"left","baseline":"middle","clip":true},
  "encoding":{"x":{"datum":{"year":2024,"month":2,"date":10,"hours":22,"utc":true},"type":"temporal","title":null},"y":{"datum":85,"type":"quantitative","title":null}}},
 {"data":{"values":[{}]},
  "mark":{"type":"text","text":"55.21","color":"#7e57c2","fontSize":5.6,"align":"left","baseline":"middle","clip":true},
  "encoding":{"x":{"datum":{"year":2024,"month":3,"date":14,"hours":9,"utc":true},"type":"temporal","title":null},"y":{"datum":85,"type":"quantitative","title":null}}},
 {"data":{"values":[{}]},
  "mark":{"type":"text","text":"60.75","color":"#e8c300","fontSize":5.6,"align":"left","baseline":"middle","clip":true},
  "encoding":{"x":{"datum":{"year":2024,"month":3,"date":22,"hours":12,"utc":true},"type":"temporal","title":null},"y":{"datum":85,"type":"quantitative","title":null}}},
 {"data":{"values":[{}]},
  "mark":{"type":"text","text":"∅   ∅   ∅   ∅   ∅   ∅","color":"#787b86","fontSize":5.6,"align":"left","baseline":"middle","clip":true},
  "encoding":{"x":{"datum":{"year":2024,"month":4,"date":1,"hours":5,"utc":true},"type":"temporal","title":null},"y":{"datum":85,"type":"quantitative","title":null}}}
]
},
{
"width":737,"height":22,
"layer":[
 {"data":{"values":[{}]},
  "mark":{"type":"rule","color":"#e0e3eb","strokeWidth":1},
  "encoding":{"y":{"datum":20.5,"type":"quantitative","axis":null,"scale":{"domain":[0,22],"nice":false,"zero":true}}}},
 {"data":{"values":[{}]},
  "mark":{"type":"text","text":"TradingView","color":"#131722","fontSize":7.5,"fontWeight":"bold","align":"left","baseline":"middle","clip":true},
  "encoding":{
   "x":{"datum":{"year":2024,"month":2,"date":13,"hours":9,"utc":true},"type":"temporal","axis":null,"scale":{"type":"utc","domain":[{"year":2024,"month":2,"date":17,"hours":20,"utc":true},{"year":2024,"month":12,"date":12,"hours":17,"utc":true}]}},
   "y":{"datum":8,"type":"quantitative","axis":null,"scale":{"domain":[0,22],"nice":false,"zero":true}}}}
]
}
]
}
